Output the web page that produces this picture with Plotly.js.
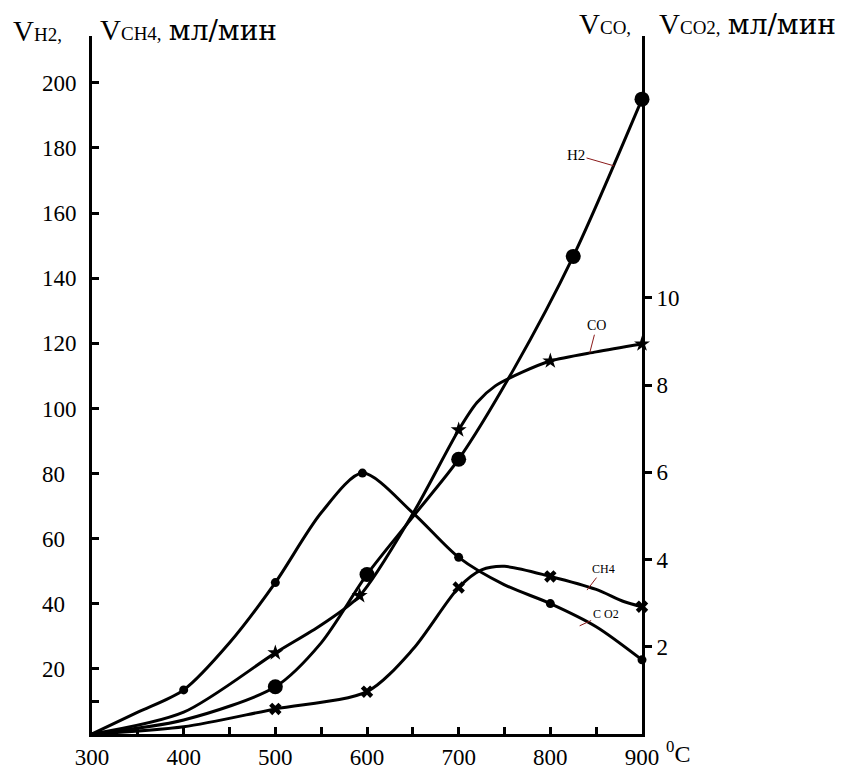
<!DOCTYPE html>
<html>
<head>
<meta charset="utf-8">
<script src="https://cdn.plot.ly/plotly-3.0.1.min.js"></script>
<style>html,body{margin:0;padding:0;background:#fff;}#chart{width:862px;height:769px;}</style>
</head>
<body>
<div id="chart"></div>
<script>
// Temperature axis (labelled every 100, minor ticks every 50)
var xTickVals = [300, 400, 500, 600, 700, 800, 900];
var xTickText = ['300', '400', '500', '600', '700', '800', '900'];
var xMinorTickVals = [350, 450, 550, 650, 750, 850];
// Left axis (H2, CH4), ml/min
var yLeftTickVals = [20, 40, 60, 80, 100, 120, 140, 160, 180, 200];
var yLeftTickText = ['20', '40', '60', '80', '100', '120', '140', '160', '180', '200'];
var yLeftMinorTickVals = [10];
// Right axis (CO, CO2), ml/min
var yRightTickVals = [2, 4, 6, 8, 10];
var yRightTickText = ['2', '4', '6', '8', '10'];

// H2 (left axis)
var h2CurveT = [300, 400, 500, 550, 600, 650, 700, 760, 825, 900];
var h2CurveV = [0, 4.3, 14.5, 28, 49, 66.7, 84.4, 112, 146.7, 195];
var h2MarkT = [500, 600, 700, 825, 900];
var h2MarkV = [14.5, 49, 84.4, 146.7, 195];

// CH4 (left axis)
var ch4CurveT = [300, 400, 500, 600, 650, 700, 725, 750, 800, 850, 880, 900];
var ch4CurveV = [0, 2.2, 7.7, 13, 26, 45, 50.4, 51.5, 48.4, 44.4, 40.7, 39.1];
var ch4MarkT = [500, 600, 700, 800, 900];
var ch4MarkV = [7.7, 13, 45, 48.4, 39.1];

// CO (right axis)
var coCurveT = [300, 400, 500, 550, 592, 650, 700, 720, 740, 770, 800, 850, 900];
var coCurveV = [0, 0.5, 1.86, 2.5, 3.17, 5.05, 6.97, 7.6, 7.98, 8.3, 8.55, 8.76, 8.94];
var coMarkT = [500, 592, 700, 800, 900];
var coMarkV = [1.86, 3.17, 6.97, 8.55, 8.94];

// CO2 (right axis)
var co2CurveT = [300, 350, 400, 450, 500, 550, 595, 650, 700, 750, 800, 850, 900];
var co2CurveV = [0, 0.5, 1.01, 2.09, 3.47, 5.07, 5.98, 5.07, 4.05, 3.42, 2.99, 2.46, 1.70];
var co2MarkT = [400, 500, 595, 700, 800, 900];
var co2MarkV = [1.01, 3.47, 5.98, 4.05, 2.99, 1.70];

var FONT = 'Liberation Serif, Times New Roman, serif';
var INK = '#000000';
var LEAD = '#8b1a1a';

function lineTrace(x, y, axis) {
  return {x: x, y: y, yaxis: axis, type: 'scatter', mode: 'lines',
    line: {color: INK, width: 3, shape: 'spline', smoothing: 0.8},
    hoverinfo: 'skip', showlegend: false, cliponaxis: false};
}
function markTrace(x, y, axis, symbol, size) {
  return {x: x, y: y, yaxis: axis, type: 'scatter', mode: 'markers',
    marker: {color: INK, symbol: symbol, size: size, line: {width: 0}},
    hoverinfo: 'skip', showlegend: false, cliponaxis: false};
}

var data = [
  lineTrace(h2CurveT, h2CurveV, 'y'),
  lineTrace(ch4CurveT, ch4CurveV, 'y'),
  lineTrace(coCurveT, coCurveV, 'y2'),
  lineTrace(co2CurveT, co2CurveV, 'y2'),
  markTrace(h2MarkT, h2MarkV, 'y', 'circle', 15),
  markTrace(ch4MarkT, ch4MarkV, 'y', 'x', 11),
  markTrace(coMarkT, coMarkV, 'y2', 'star', 12),
  markTrace(co2MarkT, co2MarkV, 'y2', 'circle', 9)
];

var PL = 92, PR = 642, PT = 36, PB = 734;
function px(xp) { return (xp - PL) / (PR - PL); }
function py(yp) { return (PB - yp) / (PB - PT); }

function sub(t) { return "<span style='font-size:19px'>" + t + "</span>"; }
var UNIT = "<span style='font-family:DejaVu Serif;font-size:28px;font-weight:normal'>мл/мин</span>";

var layout = {
  width: 862, height: 769,
  margin: {l: PL, r: 862 - PR, t: PT, b: 769 - PB, pad: 0},
  paper_bgcolor: '#ffffff', plot_bgcolor: '#ffffff',
  font: {family: FONT, color: INK, size: 23},
  showlegend: false, hovermode: false,
  xaxis: {
    range: [300, 900], tickmode: 'array', tickvals: xTickVals, ticktext: xTickText,
    ticks: 'inside', ticklen: 7, tickwidth: 3, tickcolor: INK,
    minor: {tickmode: 'array', tickvals: xMinorTickVals, ticks: 'inside', ticklen: 7, tickwidth: 3, tickcolor: INK, showgrid: false},
    showline: true, linewidth: 3, linecolor: INK, mirror: false,
    showgrid: false, zeroline: false, tickfont: {family: FONT, size: 23, color: INK}
  },
  yaxis: {
    range: [0, 214.4], tickmode: 'array', tickvals: yLeftTickVals,
    ticktext: yLeftTickText.map(function (t) { return t.length === 2 ? t + '\u00a0\u00a0' : t; }),
    ticks: 'inside', ticklen: 7, tickwidth: 3, tickcolor: INK,
    minor: {tickmode: 'array', tickvals: yLeftMinorTickVals, ticks: 'inside', ticklen: 7, tickwidth: 3, tickcolor: INK, showgrid: false},
    showline: true, linewidth: 3, linecolor: INK,
    showgrid: false, zeroline: false, tickfont: {family: FONT, size: 23, color: INK},
    ticklabelstandoff: 8
  },
  yaxis2: {
    range: [0, 16.0], overlaying: 'y', side: 'right', anchor: 'x',
    tickmode: 'array', tickvals: yRightTickVals, ticktext: yRightTickText,
    ticks: 'outside', ticklen: 7, tickwidth: 3, tickcolor: INK,
    showline: true, linewidth: 3, linecolor: INK,
    showgrid: false, zeroline: false, tickfont: {family: FONT, size: 23, color: INK}
  },
  annotations: [
    {xref: 'paper', yref: 'paper', x: px(11), y: py(31), xanchor: 'left', yanchor: 'middle',
      text: 'V' + sub('H2,'), showarrow: false, font: {family: FONT, size: 29, color: INK}},
    {xref: 'paper', yref: 'paper', x: px(98), y: py(31), xanchor: 'left', yanchor: 'middle',
      text: 'V' + sub('CH4,') + ' ' + UNIT, showarrow: false,
      font: {family: FONT, size: 29, color: INK}},
    {xref: 'paper', yref: 'paper', x: px(577), y: py(24), xanchor: 'left', yanchor: 'middle',
      text: 'V' + sub('CO,'), showarrow: false, font: {family: FONT, size: 29, color: INK}},
    {xref: 'paper', yref: 'paper', x: px(657), y: py(24), xanchor: 'left', yanchor: 'middle',
      text: 'V' + sub('CO2,') + ' ' + UNIT, showarrow: false,
      font: {family: FONT, size: 29, color: INK}},
    {xref: 'paper', yref: 'paper', x: px(664), y: py(752), xanchor: 'left', yanchor: 'middle',
      text: '<sup>0</sup>C', showarrow: false, font: {family: FONT, size: 24, color: INK}},
    // curve labels with leader lines
    {xref: 'x', yref: 'y', x: 869.5, y: 174.5, text: 'H2', showarrow: true, arrowhead: 0,
      arrowwidth: 1, arrowcolor: LEAD, ax: -38, ay: -11, font: {family: FONT, size: 15, color: INK}},
    {xref: 'x', yref: 'y2', x: 843, y: 8.74, text: 'CO', showarrow: true, arrowhead: 0,
      arrowwidth: 1, arrowcolor: LEAD, ax: 7, ay: -27, font: {family: FONT, size: 14, color: INK}},
    {xref: 'x', yref: 'y', x: 840, y: 44.2, text: 'CH4', showarrow: true, arrowhead: 0,
      arrowwidth: 1, arrowcolor: LEAD, ax: 16, ay: -21, font: {family: FONT, size: 12, color: INK}},
    {xref: 'x', yref: 'y2', x: 832, y: 2.48, text: 'C O2', showarrow: true, arrowhead: 0,
      arrowwidth: 1, arrowcolor: LEAD, ax: 26, ay: -12, font: {family: FONT, size: 12, color: INK}}
  ]
};

Plotly.newPlot('chart', data, layout, {staticPlot: true, displayModeBar: false});
</script>
</body>
</html>
